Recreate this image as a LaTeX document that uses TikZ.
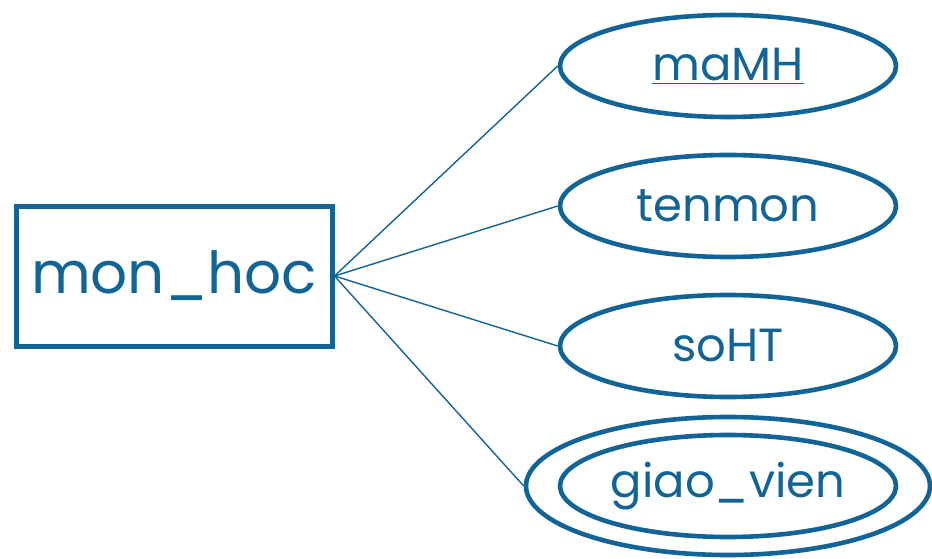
\documentclass[tikz,border=0pt]{standalone}
\usepackage{fontspec}
\setmainfont{Poppins}
\usepackage{tikz}
\usetikzlibrary{shapes.geometric}
\definecolor{erblue}{RGB}{18,100,150}
\tikzset
{
    entity/.style = {rectangle, draw=erblue, line width=5pt, text=erblue, minimum width=316pt, minimum height=140pt, inner sep=0pt, font=\fontsize{58}{60}\selectfont},
    attr/.style   = {ellipse, draw=erblue, line width=4.6pt, text=erblue, minimum width=336pt, minimum height=102pt, inner sep=0pt, font=\fontsize{46.5}{48}\selectfont},
    link/.style   = {draw=erblue, line width=1.4pt}
}

\begin{document}
\begin{tikzpicture}[x=1pt, y=-1pt]
    \useasboundingbox (0,0) rectangle (932,559);
    \node [entity] (monhoc) at (174,276) {mon\_hoc};
    \node [attr] (mamh) at (728,66) {\underline{maMH}};
    \node [attr] (tenmon) at (728,206) {tenmon};
    \node [attr] (soht) at (728,346) {soHT};
    \node [attr] (giaovien) at (728,486) {giao\_vien};
    \node [attr, minimum width=404pt, minimum height=138pt] (giaovienouter) at (728,486) {};
    % links to the attributes
    \draw [link] (monhoc.east) -- (mamh.west);
    \draw [link] (monhoc.east) -- (tenmon.west);
    \draw [link] (monhoc.east) -- (soht.west);
    \draw [link] (monhoc.east) -- (giaovienouter.west);
\end{tikzpicture}
\end{document}
